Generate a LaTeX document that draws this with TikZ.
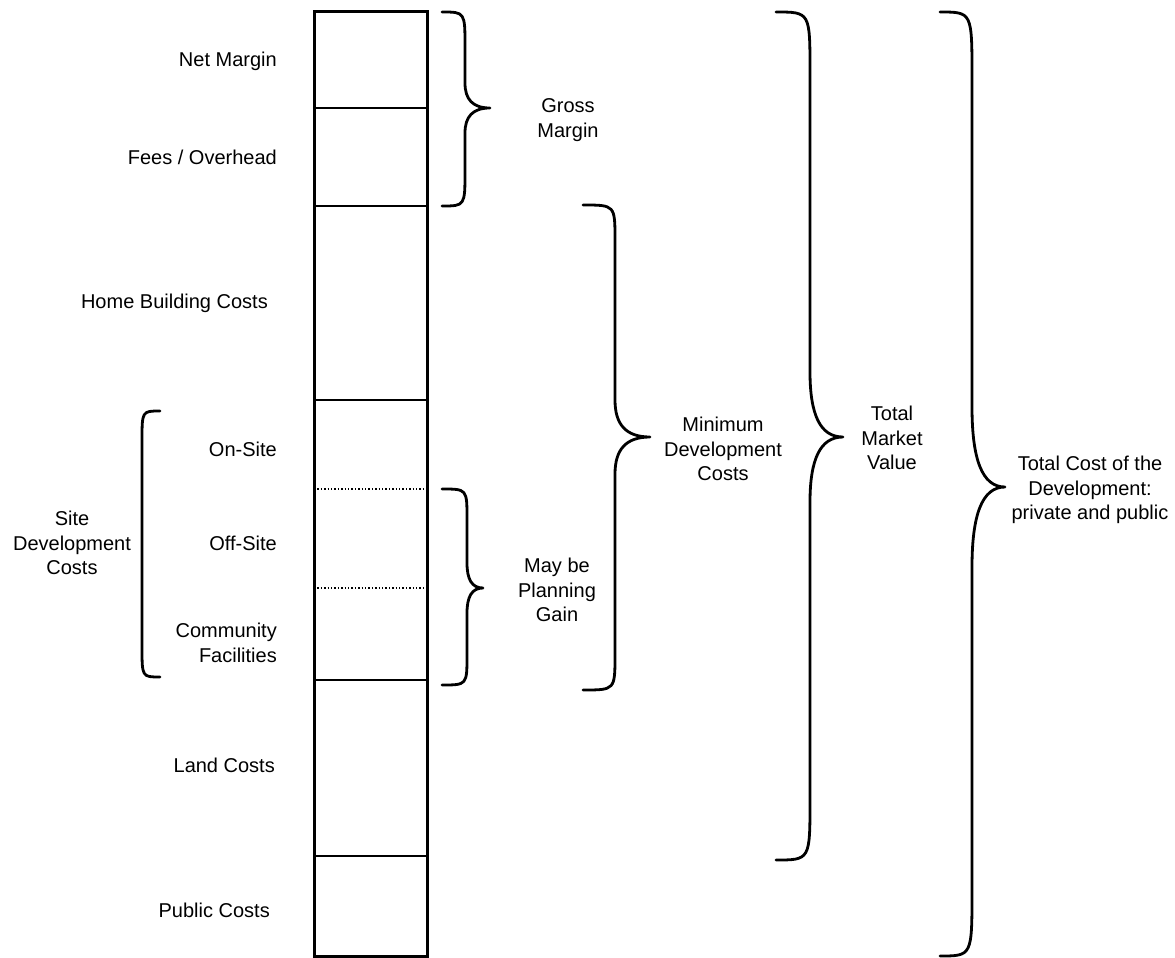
\documentclass[tikz,border=0pt]{standalone}
\usepackage{fontspec}
\setmainfont{Liberation Sans}
\begin{document}
\begin{tikzpicture}[x=1pt,y=-1pt,
  box/.style={line width=3pt},
  sep/.style={line width=2.6pt},
  dotsep/.style={line width=1.4pt, dotted},
  brc/.style={line width=2.8pt, line cap=round, line join=round},
  lbl/.style={inner sep=0pt, align=center, font=\fontsize{20}{24.5}\selectfont},
  lblr/.style={inner sep=0pt, align=right, anchor=east, font=\fontsize{20}{24.5}\selectfont}]
\useasboundingbox (0,0) rectangle (1175,958);

% curly brace: x of ends, x of spine, x of tip, y top, y tip, y bottom, end bend, tip bend
\newcommand\curlybrc[8]{%
  \draw[brc] (#1,#4) .. controls (#2,#4) .. (#2,#4+#7) -- (#2,#5-#8)
    .. controls (#2,#5-0.35*#8) and ({#2+0.3*(#3-#2)},#5) .. (#3,#5)
    .. controls ({#2+0.3*(#3-#2)},#5) and (#2,#5+0.35*#8) .. (#2,#5+#8)
    -- (#2,#6-#7) .. controls (#2,#6) .. (#1,#6);}

% the stacked cost column
\draw[box] (314,12) rectangle (427,956);
\draw[sep] (314,108) -- (427,108);
\draw[sep] (314,206) -- (427,206);
\draw[sep] (314,400) -- (427,400);
\draw[dotsep] (314,489) -- (427,489);
\draw[dotsep] (314,588) -- (427,588);
\draw[sep] (314,680) -- (427,680);
\draw[sep] (314,856) -- (427,856);

% component labels
\node[lblr] (net)   at (277,61)  {Net Margin};
\node[lblr] (fees)  at (277,157) {Fees / Overhead};
\node[lblr] (home)  at (268,303) {Home Building Costs};
\node[lblr] (onsite)  at (277,449) {On-Site};
\node[lblr] (offsite) at (277,543) {Off-Site};
\node[lblr] (comm)  at (277,643) {Community\\Facilities};
\node[lblr] (land)  at (275,765) {Land Costs};
\node[lblr] (public) at (270,910) {Public Costs};

% bracket grouping the site development items
\draw[brc] (160,411) .. controls (142,411) .. (142,441) -- (142,647)
  .. controls (142,677) .. (160,677);

% braces
\curlybrc{442}{465}{490}{12}{108}{206}{35}{25}
\curlybrc{442}{467}{483}{489}{588}{685}{30}{25}
\curlybrc{583}{615}{650}{205}{437}{690}{35}{37}
\curlybrc{776}{810}{843}{12}{437}{860}{60}{65}
\curlybrc{940}{972}{1005}{12}{487}{956}{65}{80}

% group labels
\node[lbl] (site)  at (72,543)   {Site\\Development\\Costs};
\node[lbl] (gross) at (568,120)  {Gross\\Margin};
\node[lbl] (gain)  at (557,590)  {May be\\Planning\\Gain};
\node[lbl] (mindev) at (723,449) {Minimum\\Development\\Costs};
\node[lbl] (market) at (892,438) {Total\\Market\\Value};
\node[lbl] (total) at (1090,490) {Total Cost of the\\Development:\\private and public};
\end{tikzpicture}
\end{document}
